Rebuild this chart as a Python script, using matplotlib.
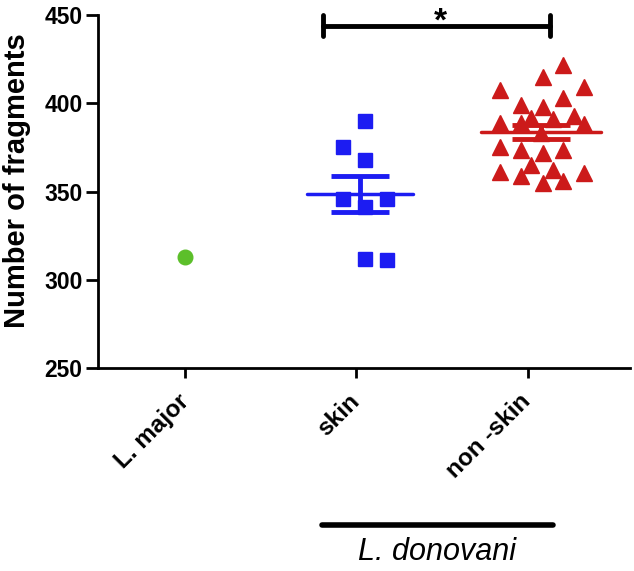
import numpy as np
import matplotlib
matplotlib.use("Agg")
import matplotlib.pyplot as plt
import matplotlib.transforms as mtransforms

plt.rcParams["font.family"] = ["Liberation Sans", "DejaVu Sans"]

categories = ["L. major", "skin", "non -skin"]

major_values = [313]
major_offsets = [0.0]

skin_values = [390, 375, 368, 346, 346, 341, 312, 311]
skin_offsets = [0.05, -0.08, 0.05, -0.08, 0.18, 0.05, 0.05, 0.18]

nonskin_values = [421.7, 415, 407.5, 409, 403, 399, 398, 393, 389, 391.6, 391, 388, 389,
                  383, 375, 373.5, 373.5, 372, 365, 361, 362, 360.5, 359, 355, 356]
nonskin_offsets = [0.21, 0.09, -0.16, 0.33, 0.21, -0.04, 0.09, 0.27, -0.16, 0.02, 0.15, 0.33, -0.04,
                   0.08, -0.16, -0.04, 0.21, 0.09, 0.02, -0.16, 0.15, 0.33, -0.04, 0.09, 0.21]

ylim = (250, 450)
yticks = [250, 300, 350, 400, 450]

GREEN = "#5cbf2a"
BLUE = "#1c1cf2"
RED = "#cc1a1a"

fig = plt.figure(figsize=(6.34, 5.71), dpi=100)
ax = fig.add_axes([0.1546, 0.3555, 0.8394, 0.6182])

ax.plot(np.array(major_offsets) + 0, major_values, "o", color=GREEN, ms=10.5, mec=GREEN)
ax.plot(np.array(skin_offsets) + 1, skin_values, "s", color=BLUE, ms=10.5, mec=BLUE)
ax.plot(np.array(nonskin_offsets) + 2, nonskin_values, "^", color=RED, ms=11, mec=RED)


def mean_sem(ax, x, vals, color, half):
    vals = np.asarray(vals)
    m = vals.mean()
    sem = vals.std(ddof=1) / np.sqrt(len(vals))
    ax.plot([x - half, x + half], [m, m], color=color, lw=2.5, solid_capstyle="round", zorder=4)
    ax.errorbar([x], [m], yerr=[sem], color=color, lw=3.5, capsize=21, capthick=3.5, zorder=4)


mean_sem(ax, 1.02, skin_values, BLUE, 0.31)
mean_sem(ax, 2.08, nonskin_values, RED, 0.35)

# significance bar
ax.plot([0.807, 2.134], [444, 444], color="black", lw=3.5, clip_on=False, solid_capstyle="round")
for xe in (0.807, 2.134):
    ax.plot([xe, xe], [438, 450], color="black", lw=3.5, clip_on=False, solid_capstyle="round")
ax.text(1.49, 446, "*", ha="center", va="center", fontsize=24, fontweight="bold", clip_on=False)

ax.set_xlim(-0.51, 2.6)
ax.set_ylim(*ylim)
ax.set_yticks(yticks)
ax.set_xticks(range(len(categories)))
ax.set_xticklabels(categories, rotation=45, ha="right", va="center", rotation_mode="anchor")
ax.tick_params(axis="y", length=9, width=2, labelsize=16.5, pad=2)
ax.tick_params(axis="x", length=7.5, width=2, labelsize=17.5, pad=14)
for lab in ax.get_xticklabels() + ax.get_yticklabels():
    lab.set_fontweight("bold")
for side in ("top", "right"):
    ax.spines[side].set_visible(False)
for side in ("left", "bottom"):
    ax.spines[side].set_linewidth(2)

ax.set_ylabel("Number of fragments", fontsize=21, fontweight="bold", labelpad=4)
ax.yaxis.set_label_coords(-0.125, 0.53)

# group bar under the skin / non-skin labels
trans = mtransforms.blended_transform_factory(ax.transData, fig.transFigure)
ax.plot([0.80, 2.146], [1 - 525 / 571] * 2, color="black", lw=4, transform=trans,
        clip_on=False, solid_capstyle="round")
ax.text(1.473, 1 - 552 / 571, "L. donovani", transform=trans, ha="center", va="center",
        fontsize=22, style="italic")

fig.savefig("out.png", dpi=100)
